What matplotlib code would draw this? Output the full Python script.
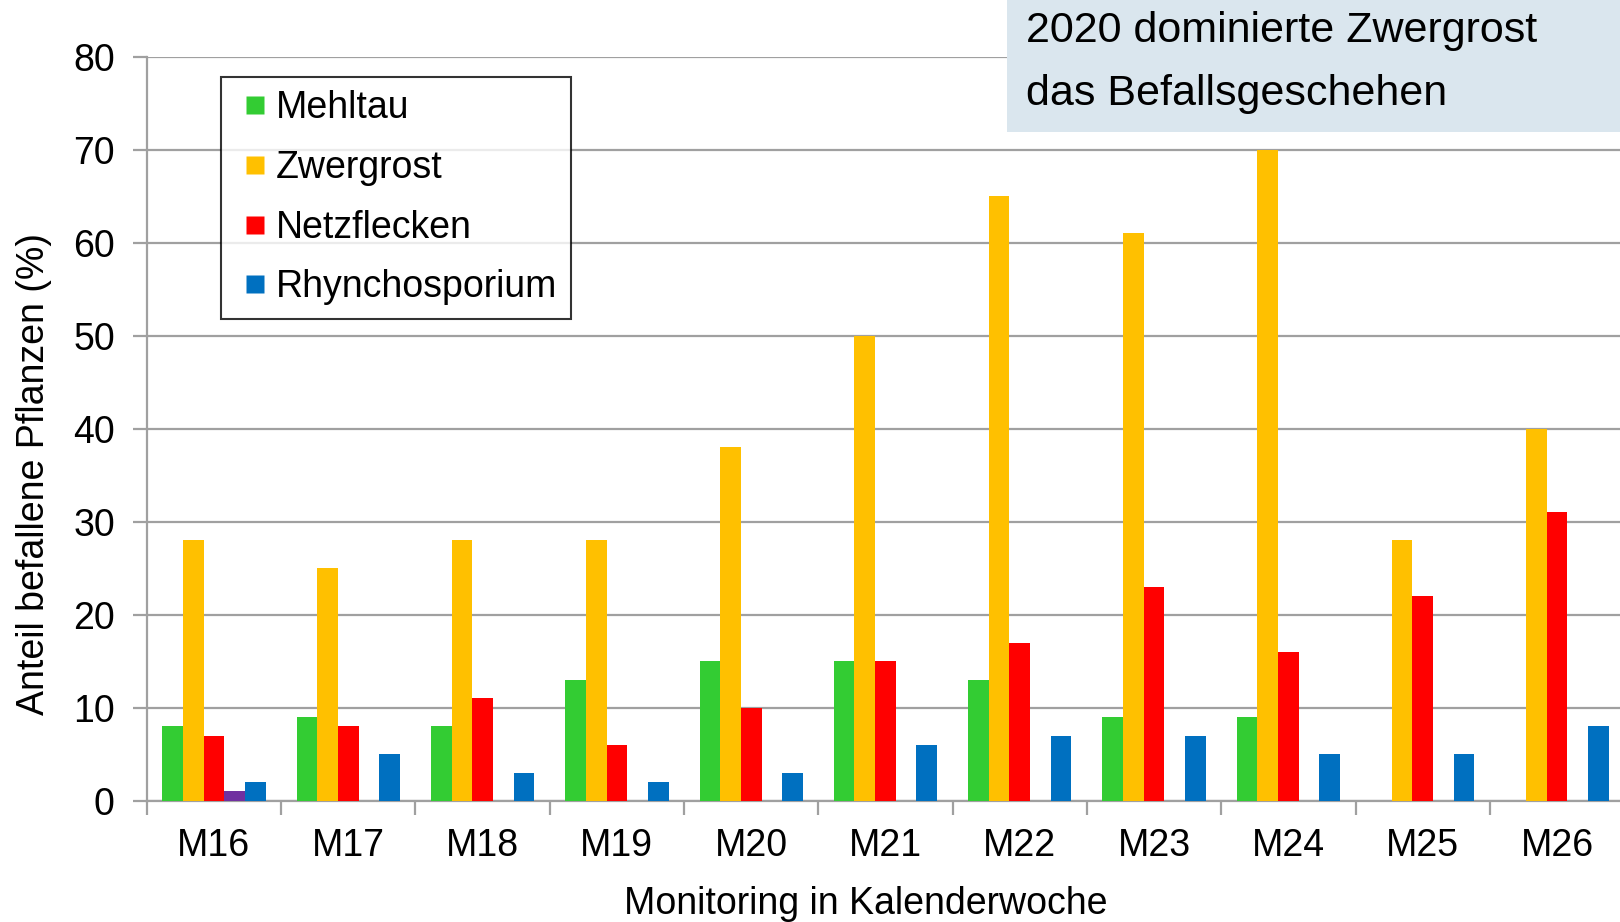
import matplotlib.pyplot as plt
import numpy as np
from matplotlib.lines import Line2D

plt.rcParams['font.family'] = ['Liberation Sans', 'DejaVu Sans']

wochen = ['M16', 'M17', 'M18', 'M19', 'M20', 'M21', 'M22', 'M23', 'M24', 'M25', 'M26']
mehltau = [8, 9, 8, 13, 15, 15, 13, 9, 9, 0, 0]
zwergrost = [28, 25, 28, 28, 38, 50, 65, 61, 70, 28, 40]
netzflecken = [7, 8, 11, 6, 10, 15, 17, 23, 16, 22, 31]
sonstige = [1, 0, 0, 0, 0, 0, 0, 0, 0, 0, 0]
rhyncho = [2, 5, 3, 2, 3, 6, 7, 7, 5, 5, 8]

serien = [mehltau, zwergrost, netzflecken, sonstige, rhyncho]
farben = ['#33CC33', '#FFC000', '#FF0000', '#7030A0', '#0070C0']
namen = ['Mehltau', 'Zwergrost', 'Netzflecken', None, 'Rhynchosporium']

fs = 27

fig = plt.figure(figsize=(16.2, 9.22), dpi=100)
ax = fig.add_axes([0.0906, 0.1316, 0.912, 0.8068])

x = np.arange(len(wochen))
bw = 20 / 130
for i, (werte, farbe) in enumerate(zip(serien, farben)):
    ax.bar(x + (i - 2) * bw, werte, width=bw, color=farbe, zorder=3)

ax.set_xlim(-0.5, len(wochen) - 0.5)
ax.set_ylim(0, 80)
ax.set_yticks(range(0, 81, 10))
ax.yaxis.grid(True, color='#A0A0A0', linewidth=1.6, zorder=0)

for s in ['top', 'right']:
    ax.spines[s].set_visible(False)
for s in ['left', 'bottom']:
    ax.spines[s].set_color('#A0A0A0')
    ax.spines[s].set_linewidth(1.6)

ax.set_xticks(x)
ax.set_xticklabels(wochen)
ax.set_xticks(np.arange(-0.5, len(wochen), 1), minor=True)
ax.tick_params(axis='x', which='major', length=0, labelsize=fs, pad=20)
ax.tick_params(axis='x', which='minor', length=10, width=1.6, color='#A0A0A0')
ax.tick_params(axis='y', length=10, width=1.6, color='#A0A0A0', labelsize=fs, pad=13)

fig.text(0.021, 0.486, 'Anteil befallene Pflanzen (%)', rotation=90, fontsize=fs,
         ha='center', va='center')
fig.text(0.5347, 0.0195, 'Monitoring in Kalenderwoche', fontsize=fs, ha='center', va='center')

handles = [Line2D([], [], marker='s', linestyle='none', markersize=13.5,
                  markerfacecolor=f, markeredgecolor='none', label=n)
           for f, n in zip(farben, namen) if n]
leg = fig.legend(handles=handles, loc='upper left', bbox_to_anchor=(0.1364, 0.9165),
                 fontsize=fs, frameon=True, fancybox=False, handlelength=1.1,
                 handletextpad=0.0, labelspacing=0.63,
                 borderpad=0.36, borderaxespad=0)
leg.get_frame().set_edgecolor('black')
leg.get_frame().set_linewidth(1.5)

# Hinweisbox oben rechts
box = plt.Rectangle((1007 / 1620, 1 - 132 / 922), 1 - 1007 / 1620, 132 / 922,
                    transform=fig.transFigure, facecolor='#DAE6EE', edgecolor='none', zorder=5)
fig.patches.append(box)
fig.text(1026 / 1620, 1 - 31 / 922, '2020 dominierte Zwergrost', fontsize=31,
         ha='left', va='center', zorder=6)
fig.text(1026 / 1620, 1 - 94 / 922, 'das Befallsgeschehen', fontsize=31,
         ha='left', va='center', zorder=6)

fig.savefig('out.png', dpi=100)
